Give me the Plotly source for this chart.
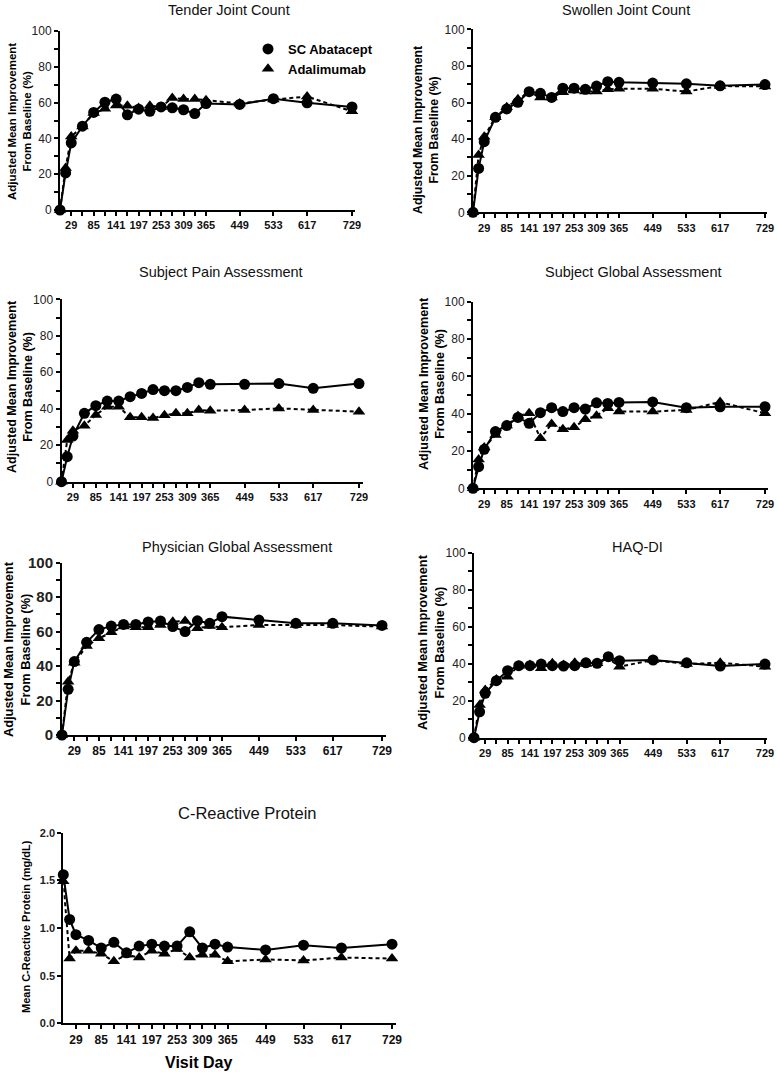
import plotly.graph_objects as go

W, H = 777, 1072
FONT = "Liberation Sans, Arial, sans-serif"

days = [1, 15, 29, 57, 85, 113, 141, 169, 197, 225, 253, 281, 309, 337, 365, 449, 533, 617, 729]
tick_days = [29, 57, 85, 113, 141, 169, 197, 225, 253, 281, 309, 337, 365, 449, 533, 617, 729]
labelled_days = [29, 85, 141, 197, 253, 309, 365, 449, 533, 617, 729]

tender_aba = [0, 20.7, 37.5, 46.8, 54.5, 60.2, 62, 53.2, 56.3, 55.1, 57.6, 57.1, 56, 53.9, 59.5, 59, 62.2, 59.9, 57.6]
tender_ada = [0, 23.4, 41, 46.7, 54.2, 56.5, 58.4, 58.3, 57, 58.3, 57.6, 62.6, 62, 62, 61.3, 59.5, 61.7, 63.4, 55.1]
swollen_aba = [0, 24, 38.6, 51.9, 56.5, 60.1, 65.9, 65, 62.8, 67.8, 67.8, 67.2, 69, 71.4, 71, 70.6, 70.2, 69.1, 69.8]
swollen_ada = [0, 31.3, 41.3, 52, 57.4, 61.8, 65.4, 62.8, 62.8, 65.6, 66.5, 66, 66, 67.2, 67.5, 67.5, 66, 69, 68.8]
pain_aba = [0, 13.7, 25, 37.5, 41.7, 44.2, 44.2, 46.6, 48.4, 50.5, 49.9, 49.9, 51.7, 54.3, 53.4, 53.4, 53.8, 51.2, 53.8]
pain_ada = [0, 22.9, 28, 30.7, 36.6, 41.1, 41.1, 35.3, 35.4, 34.9, 36.4, 37.5, 37.5, 39.3, 38.9, 39.3, 40.2, 39.3, 38.4]
subglob_aba = [0, 11.6, 20.9, 30.4, 33.6, 38, 34.8, 40.5, 43.2, 41.1, 43.2, 42.5, 45.8, 45.5, 46, 46.3, 43.2, 43.7, 43.7]
subglob_ada = [0, 15.5, 21.8, 28.6, 33.6, 38.8, 40.2, 26.8, 34.5, 31.6, 32.7, 37, 38.9, 42.9, 41.1, 41.1, 42, 46.2, 40.2]
phys_aba = [0, 26.5, 42.6, 53.8, 61.2, 63.2, 64.2, 64.2, 65.6, 66.2, 62.9, 60, 66.3, 64.8, 68.7, 66.7, 64.8, 64.8, 63.6]
phys_ada = [0, 30.9, 42, 51.6, 56.1, 59.6, 62.9, 62.5, 62.5, 63.8, 65.8, 66.2, 61.9, 63.2, 62.5, 63.8, 63.8, 63.8, 62.9]
haq_aba = [0, 14, 24, 30.8, 36.2, 38.9, 38.9, 39.8, 38.9, 38.7, 38.9, 40.5, 40.2, 43.8, 41.6, 42, 40.5, 38.7, 39.8]
haq_ada = [0, 17.7, 25.8, 31.5, 33, 38.9, 39.3, 37.5, 40.2, 39.3, 40.5, 39.8, 40.2, 42.9, 38.4, 42, 39.8, 40.5, 38.4]
crp_aba = [1.56, 1.09, 0.93, 0.87, 0.79, 0.85, 0.74, 0.81, 0.83, 0.81, 0.81, 0.96, 0.79, 0.83, 0.80, 0.77, 0.82, 0.79, 0.83]
crp_ada = [1.49, 0.68, 0.76, 0.76, 0.73, 0.65, 0.72, 0.69, 0.76, 0.73, 0.78, 0.69, 0.72, 0.72, 0.65, 0.67, 0.66, 0.69, 0.68]

titles = ["Tender Joint Count", "Swollen Joint Count", "Subject Pain Assessment",
          "Subject Global Assessment", "Physician Global Assessment", "HAQ-DI", "C-Reactive Protein"]
ylabel_pct = "Adjusted Mean Improvement<br>From Baseline (%)"
ylabel_crp = "Mean C-Reactive Protein (mg/dL)"
series_names = ["SC Abatacept", "Adalimumab"]

panels_data = [
    (tender_aba, tender_ada), (swollen_aba, swollen_ada), (pain_aba, pain_ada),
    (subglob_aba, subglob_ada), (phys_aba, phys_ada), (haq_aba, haq_ada), (crp_aba, crp_ada),
]

# layout geometry (pixels): day1 x, day729 x, axis end x, y-bottom px, y-top px
geom = [
    dict(x1=60, x729=352, xend=355, yb=210, yt=31),
    dict(x1=473, x729=765, xend=767, yb=212.3, yt=29.3),
    dict(x1=61.5, x729=359, xend=363, yb=481.7, yt=299.3),
    dict(x1=473, x729=765, xend=768, yb=488.3, yt=301.7),
    dict(x1=62, x729=382, xend=386, yb=735, yt=562.7),
    dict(x1=474, x729=765, xend=767, yb=737.7, yt=552.7),
    dict(x1=63.3, x729=392, xend=396, yb=1023.3, yt=832.7),
]
title_pos = [(229, 10, 14.5), (626, 10, 14.5), (221, 272, 14.5), (633, 272, 14.5),
             (237, 547, 14.5), (637, 547, 14.5), (247, 813, 16.5)]
ylab_pos = [(19, 122, 11.5), (426, 130, 12.3), (20, 387, 12.6), (432, 384, 12.6),
            (17, 649, 12.8), (431, 642, 12.8), (26, 927, 11)]
ytick_style = [(12, False), (12, False), (12, False), (12, False), (15, True), (12, False), (11, True)]
xtick_size = [11, 11, 11, 11, 12, 11, 12]

fig = go.Figure()

def px2x(p):
    return p / W

def px2y(p):
    return 1 - p / H

for i, (aba, ada) in enumerate(panels_data):
    n = i + 1
    xa = "x" if n == 1 else f"x{n}"
    ya = "y" if n == 1 else f"y{n}"
    fig.add_trace(go.Scatter(x=days, y=aba, xaxis=xa, yaxis=ya, mode="lines+markers",
                             line=dict(color="black", width=2),
                             marker=dict(symbol="circle", size=11, color="black"),
                             cliponaxis=False, showlegend=False, name=series_names[0]))
    fig.add_trace(go.Scatter(x=days, y=ada, xaxis=xa, yaxis=ya, mode="lines+markers",
                             line=dict(color="black", width=2, dash="4px,3px"),
                             marker=dict(symbol="triangle-up", size=11, color="black"),
                             cliponaxis=False, showlegend=False, name=series_names[1]))

# legend entries (marker only)
fig.add_trace(go.Scatter(x=[None], y=[None], mode="markers", name="<b>SC Abatacept</b>",
                         marker=dict(symbol="circle", size=11, color="black")))
fig.add_trace(go.Scatter(x=[None], y=[None], mode="markers", name="<b>Adalimumab</b>",
                         marker=dict(symbol="triangle-up", size=11, color="black")))

layout = dict(
    width=W, height=H, margin=dict(l=0, r=0, t=0, b=0, autoexpand=False),
    paper_bgcolor="white", plot_bgcolor="white",
    font=dict(family=FONT, color="black"),
    showlegend=True,
    legend=dict(x=px2x(248), y=px2y(34), xanchor="left", yanchor="top",
                font=dict(family=FONT, size=13, color="black"), itemwidth=30,
                bgcolor="rgba(0,0,0,0)", tracegroupgap=0),
)

annotations = []
for i, g in enumerate(geom):
    n = i + 1
    xk = "xaxis" if n == 1 else f"xaxis{n}"
    yk = "yaxis" if n == 1 else f"yaxis{n}"
    scale = (g["x729"] - g["x1"]) / 728.0
    xmax = 1 + (g["xend"] - g["x1"]) / scale
    ticktext = [f"<b>{d}</b>" if d in labelled_days else "" for d in tick_days]
    layout[xk] = dict(
        domain=[px2x(g["x1"]), px2x(g["xend"])], range=[1, xmax],
        anchor="y" if n == 1 else f"y{n}",
        showgrid=False, zeroline=False, showline=True, linecolor="black", linewidth=2,
        ticks="outside", ticklen=4, tickwidth=1.5, tickcolor="black",
        tickmode="array", tickvals=tick_days, ticktext=ticktext,
        tickfont=dict(family=FONT, size=xtick_size[i], color="#111"),
        ticklabeloverflow="allow",
        fixedrange=True,
    )
    if n == 7:
        yvals = [0, 0.5, 1.0, 1.5, 2.0]
        ytext = ["<b>%.1f</b>" % v for v in yvals]
        yr = [0, 2.0]
    else:
        yvals = list(range(0, 101, 10))
        bold = ytick_style[i][1]
        ytext = [((f"<b>{v}</b>" if bold else f"{v}") if v % 20 == 0 else "") for v in yvals]
        yr = [0, 100]
    layout[yk] = dict(
        domain=[px2y(g["yb"]), px2y(g["yt"])], range=yr,
        anchor="x" if n == 1 else f"x{n}",
        showgrid=False, zeroline=False, showline=True, linecolor="black", linewidth=2,
        ticks="outside", ticklen=4, tickwidth=1.5, tickcolor="black",
        tickmode="array", tickvals=yvals, ticktext=ytext,
        tickfont=dict(family=FONT, size=ytick_style[i][0], color="#222"),
        fixedrange=True,
    )
    tx, ty, ts = title_pos[i]
    annotations.append(dict(text=titles[i], x=px2x(tx), y=px2y(ty), xref="paper", yref="paper",
                            xanchor="center", yanchor="middle", showarrow=False,
                            font=dict(family=FONT, size=ts, color="#111")))
    lx, ly, ls = ylab_pos[i]
    annotations.append(dict(text="<b>" + (ylabel_crp if n == 7 else ylabel_pct) + "</b>",
                            x=px2x(lx), y=px2y(ly), xref="paper", yref="paper",
                            xanchor="center", yanchor="middle", showarrow=False, textangle=-90,
                            font=dict(family=FONT, size=ls, color="black")))

annotations.append(dict(text="<b>Visit Day</b>", x=px2x(198), y=px2y(1062), xref="paper", yref="paper",
                        xanchor="center", yanchor="middle", showarrow=False,
                        font=dict(family=FONT, size=16, color="black")))
layout["annotations"] = annotations

fig.update_layout(**layout)
fig.write_html("out.html", config={"displayModeBar": False},
               post_script="document.body.style.margin='0';document.body.style.padding='0';document.body.style.overflow='hidden';")
